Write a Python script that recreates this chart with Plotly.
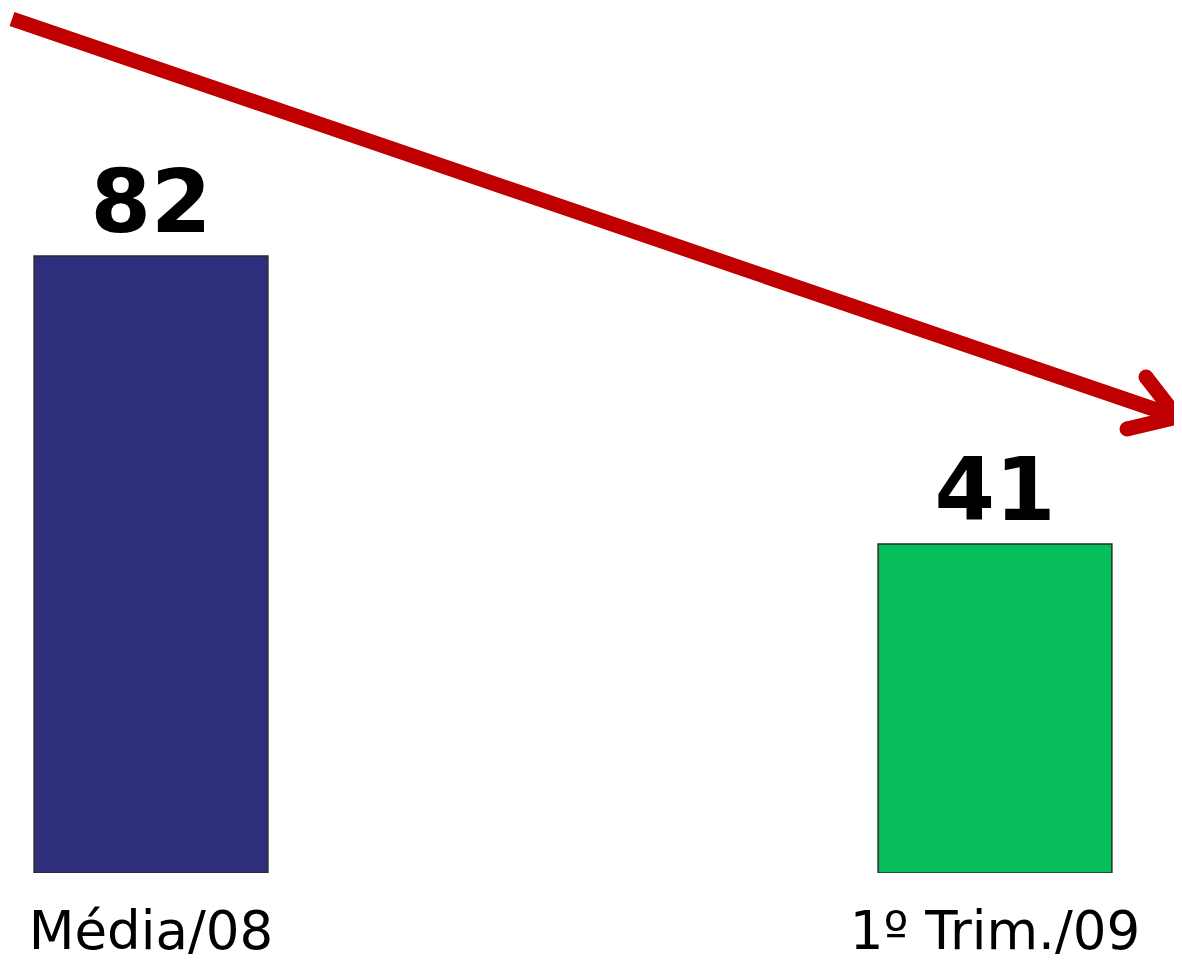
import plotly.graph_objects as go

categories = ["Média/08", "1º Trim./09"]
values = [82, 41]
value_labels = ["82", "41"]
bar_colors = ["#2E2E7C", "#06BE5A"]

OFF = 8  # page body margin
W, H = 1182 - OFF, 960 - OFF
PLOT_BOTTOM = 873 - OFF
MB = H - PLOT_BOTTOM
AXIS_MIN = -5.84
AXIS_MAX = AXIS_MIN + PLOT_BOTTOM / 7.024
RED = "#C00000"
LW = 15

def px(x, y):
    return (x - OFF) / W, (PLOT_BOTTOM - (y - OFF)) / PLOT_BOTTOM

fig = go.Figure()
fig.add_trace(go.Bar(
    x=categories,
    y=[v - AXIS_MIN for v in values],
    base=[AXIS_MIN] * len(values),
    width=0.277,
    marker=dict(color=bar_colors, line=dict(color="#2a2a2a", width=1.5)),
    text=value_labels,
    textposition="outside",
    textfont=dict(family="DejaVu Sans", size=87, color="black", weight="bold"),
    cliponaxis=False,
    hoverinfo="skip",
))

# red trend arrow
x0, y0 = px(12, 19)
x1, y1 = px(1177, 417)
a1x, a1y = px(1146, 377)
a2x, a2y = px(1127, 429)
path = f"M {x0} {y0} L {x1} {y1} M {a1x} {a1y} L {x1} {y1} L {a2x} {a2y}"
fig.add_shape(type="path", path=path, xref="paper", yref="paper",
              line=dict(color=RED, width=LW))
# round caps at arm ends
for (cx, cy) in [(1146, 377), (1127, 429)]:
    r = LW / 2
    ax0, ay0 = px(cx - r, cy + r)
    ax1, ay1 = px(cx + r, cy - r)
    fig.add_shape(type="circle", xref="paper", yref="paper",
                  x0=ax0, y0=ay0, x1=ax1, y1=ay1,
                  fillcolor=RED, line=dict(width=0))

cx0 = 151 - OFF
fig.update_layout(
    width=W, height=H,
    margin=dict(l=0, r=0, t=0, b=MB),
    plot_bgcolor="white", paper_bgcolor="white",
    showlegend=False,
    xaxis=dict(range=[-cx0 / 844, (W - cx0) / 844], showgrid=False, zeroline=False,
               showline=False, ticks="", ticklabelstandoff=22,
               tickfont=dict(family="DejaVu Sans", size=53, color="black")),
    yaxis=dict(range=[AXIS_MIN, AXIS_MAX], visible=False),
)

fig.write_html("out.html")
